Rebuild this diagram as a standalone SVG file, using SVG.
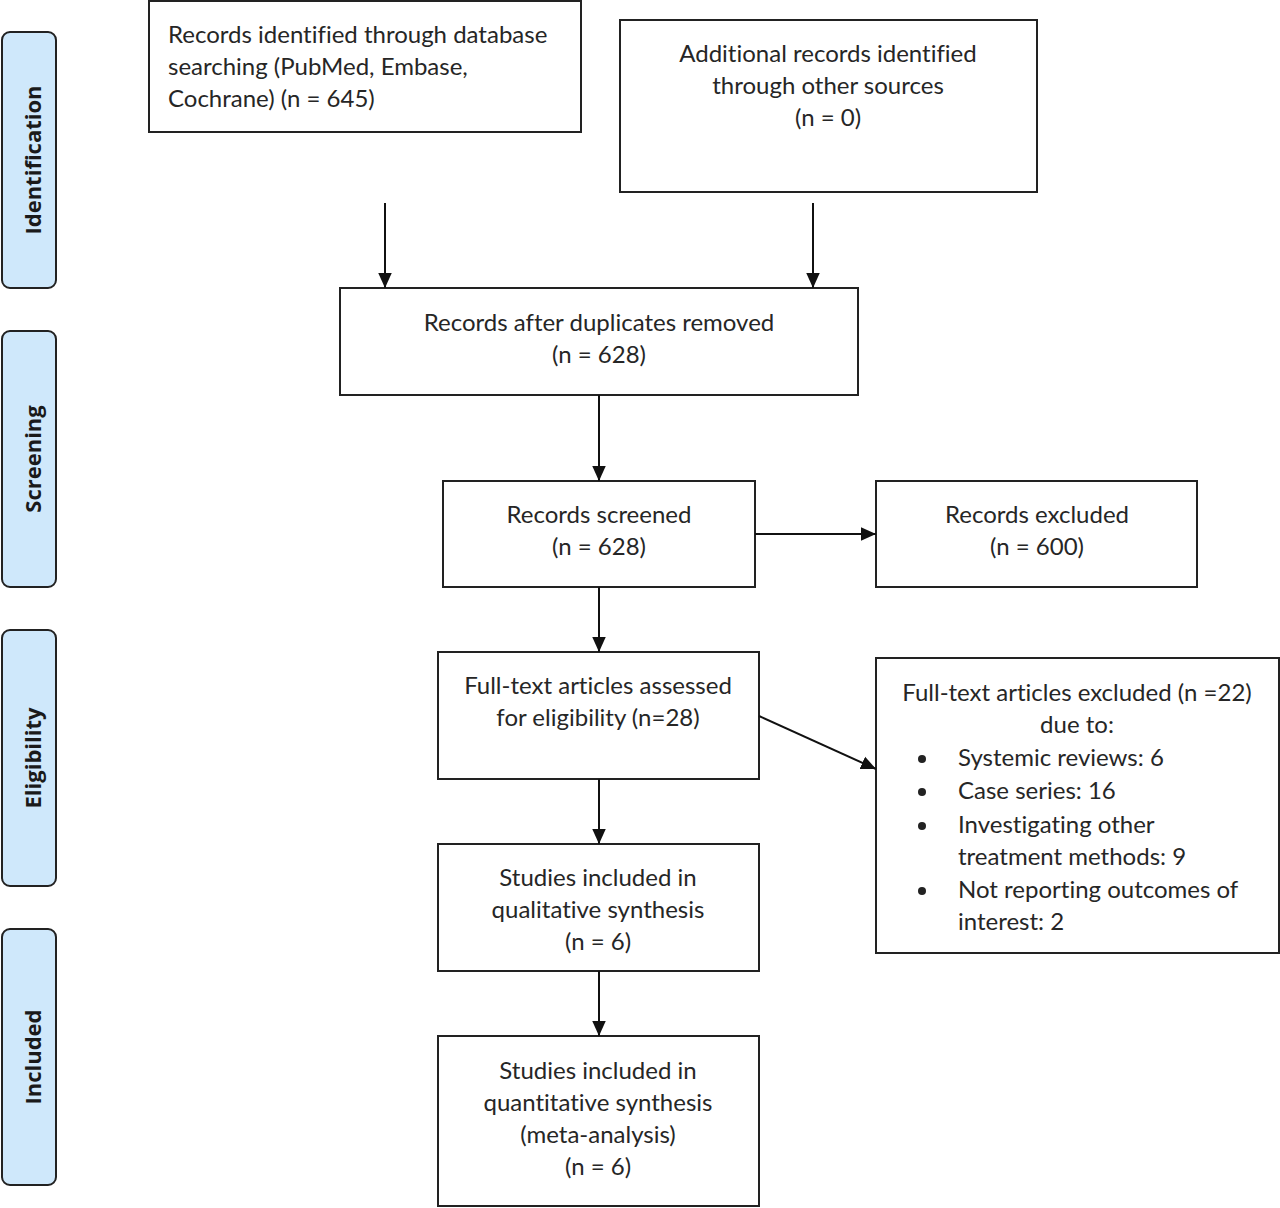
<svg xmlns="http://www.w3.org/2000/svg" width="1280" height="1208" viewBox="0 0 1280 1208">
<style>
.box{fill:#fff;stroke:#222;stroke-width:2}
.side{fill:#cfe8fb;stroke:#222;stroke-width:2}
.t{font-family:Lato,"Open Sans","Liberation Sans",sans-serif;font-size:24px;fill:#262626;font-variant-ligatures:none}
.c{text-anchor:middle}
.s{font-family:"Open Sans","Liberation Sans",sans-serif;font-size:22px;font-weight:bold;fill:#1a1a1a;text-anchor:middle}
.ln{stroke:#111;stroke-width:2;fill:none;marker-end:url(#ah)}
</style>
<defs>
<marker id="ah" viewBox="0 0 10 10" refX="10" refY="5" markerWidth="15" markerHeight="15" markerUnits="userSpaceOnUse" orient="auto">
<path d="M0,0.5 L10,5 L0,9.5 z" fill="#111"/>
</marker>
</defs>
<rect width="1280" height="1208" fill="#fff"/>
<g id="side-identification"><rect class="side" x="2" y="32" width="54" height="256" rx="8"/><text class="s" transform="translate(41,160) rotate(-90)">Identification</text></g>
<g id="side-screening"><rect class="side" x="2" y="331" width="54" height="256" rx="8"/><text class="s" transform="translate(41,459) rotate(-90)">Screening</text></g>
<g id="side-eligibility"><rect class="side" x="2" y="630" width="54" height="256" rx="8"/><text class="s" transform="translate(41,758) rotate(-90)">Eligibility</text></g>
<g id="side-included"><rect class="side" x="2" y="929" width="54" height="256" rx="8"/><text class="s" transform="translate(41,1057) rotate(-90)">Included</text></g>

<g id="n-db"><rect class="box" x="149" y="1" width="432" height="131"/>
<text class="t" x="168" y="43">Records identified through database</text>
<text class="t" x="168" y="75">searching (PubMed, Embase,</text>
<text class="t" x="168" y="107">Cochrane) (n = 645)</text></g>
<g id="n-other"><rect class="box" x="620" y="20" width="417" height="172"/>
<text class="t c" x="828" y="62">Additional records identified</text>
<text class="t c" x="828" y="94">through other sources</text>
<text class="t c" x="828" y="126">(n = 0)</text></g>
<g id="n-dup"><rect class="box" x="340" y="288" width="518" height="107"/>
<text class="t c" x="599" y="331">Records after duplicates removed</text>
<text class="t c" x="599" y="363">(n = 628)</text></g>
<g id="n-screened"><rect class="box" x="443" y="481" width="312" height="106"/>
<text class="t c" x="599" y="523">Records screened</text>
<text class="t c" x="599" y="555">(n = 628)</text></g>
<g id="n-excluded"><rect class="box" x="876" y="481" width="321" height="106"/>
<text class="t c" x="1037" y="523">Records excluded</text>
<text class="t c" x="1037" y="555">(n = 600)</text></g>
<g id="n-fulltext"><rect class="box" x="438" y="652" width="321" height="127"/>
<text class="t c" x="598" y="694">Full-text articles assessed</text>
<text class="t c" x="598" y="726">for eligibility (n=28)</text></g>
<g id="n-ftexcluded"><rect class="box" x="876" y="658" width="403" height="295"/>
<text class="t c" x="1077" y="701">Full-text articles excluded (n =22)</text>
<text class="t c" x="1077" y="733">due to:</text>
<g fill="#222"><circle cx="922" cy="759" r="4"/><circle cx="922" cy="792" r="4"/><circle cx="922" cy="826" r="4"/><circle cx="922" cy="891" r="4"/></g>
<text class="t" x="958" y="766">Systemic reviews: 6</text>
<text class="t" x="958" y="799">Case series: 16</text>
<text class="t" x="958" y="833">Investigating other</text>
<text class="t" x="958" y="865">treatment methods: 9</text>
<text class="t" x="958" y="898">Not reporting outcomes of</text>
<text class="t" x="958" y="930">interest: 2</text></g>
<g id="n-qual"><rect class="box" x="438" y="844" width="321" height="127"/>
<text class="t c" x="598" y="886">Studies included in</text>
<text class="t c" x="598" y="918">qualitative synthesis</text>
<text class="t c" x="598" y="950">(n = 6)</text></g>
<g id="n-quant"><rect class="box" x="438" y="1036" width="321" height="170"/>
<text class="t c" x="598" y="1079">Studies included in</text>
<text class="t c" x="598" y="1111">quantitative synthesis</text>
<text class="t c" x="598" y="1143">(meta-analysis)</text>
<text class="t c" x="598" y="1175">(n = 6)</text></g>

<g id="connectors">
<line class="ln" x1="385" y1="203" x2="385" y2="288"/>
<line class="ln" x1="813" y1="203" x2="813" y2="288"/>
<line class="ln" x1="599" y1="395" x2="599" y2="481"/>
<line class="ln" x1="599" y1="587" x2="599" y2="652"/>
<line class="ln" x1="755" y1="534" x2="876" y2="534"/>
<line class="ln" x1="759" y1="716" x2="876" y2="769"/>
<line class="ln" x1="599" y1="779" x2="599" y2="844"/>
<line class="ln" x1="599" y1="971" x2="599" y2="1036"/>
</g>
</svg>
